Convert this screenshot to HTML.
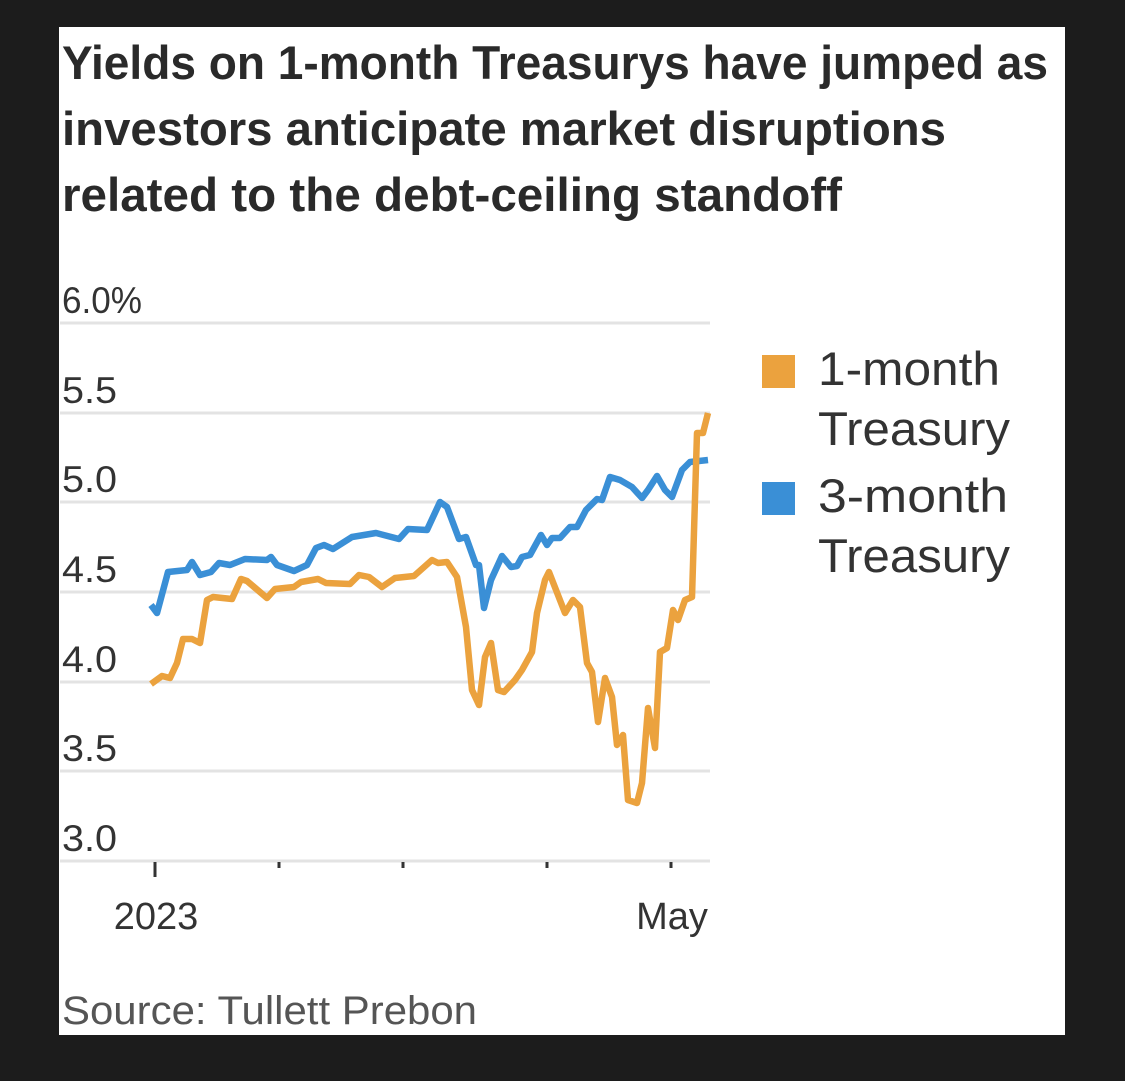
<!DOCTYPE html>
<html><head><style>
html,body{margin:0;padding:0;background:#1c1c1c;}
svg{display:block}
</style></head><body>
<svg width="1125" height="1081" viewBox="0 0 1125 1081" xmlns="http://www.w3.org/2000/svg" font-family="Liberation Sans, sans-serif">
<rect x="0" y="0" width="1125" height="1081" fill="#1c1c1c"/>
<rect x="59" y="27" width="1006" height="1008" fill="#fff"/>
<g fill="#2a2a2a" font-weight="bold" font-size="47">
<text x="62" y="79" textLength="986" lengthAdjust="spacingAndGlyphs">Yields on 1-month Treasurys have jumped as</text>
<text x="62" y="145" textLength="884" lengthAdjust="spacingAndGlyphs">investors anticipate market disruptions</text>
<text x="62" y="211" textLength="780" lengthAdjust="spacingAndGlyphs">related to the debt-ceiling standoff</text>
</g>
<g stroke="#e3e3e3" stroke-width="3">
<line x1="60" y1="323" x2="710" y2="323"/>
<line x1="60" y1="413" x2="710" y2="413"/>
<line x1="60" y1="502" x2="710" y2="502"/>
<line x1="60" y1="592" x2="710" y2="592"/>
<line x1="60" y1="682" x2="710" y2="682"/>
<line x1="60" y1="771" x2="710" y2="771"/>
<line x1="60" y1="861" x2="710" y2="861"/>
</g>
<g fill="#333" font-size="37">
<text x="62" y="313" textLength="80" lengthAdjust="spacingAndGlyphs">6.0%</text>
<text x="62" y="403" textLength="55" lengthAdjust="spacingAndGlyphs">5.5</text>
<text x="62" y="492" textLength="55" lengthAdjust="spacingAndGlyphs">5.0</text>
<text x="62" y="582" textLength="55" lengthAdjust="spacingAndGlyphs">4.5</text>
<text x="62" y="672" textLength="55" lengthAdjust="spacingAndGlyphs">4.0</text>
<text x="62" y="761" textLength="55" lengthAdjust="spacingAndGlyphs">3.5</text>
<text x="62" y="851" textLength="55" lengthAdjust="spacingAndGlyphs">3.0</text>
</g>
<g stroke="#333" stroke-width="3">
<line x1="155" y1="862" x2="155" y2="877"/>
<line x1="279" y1="862" x2="279" y2="868"/>
<line x1="403" y1="862" x2="403" y2="868"/>
<line x1="547" y1="862" x2="547" y2="868"/>
<line x1="671" y1="862" x2="671" y2="868"/>
</g>
<g fill="#333" font-size="38" text-anchor="middle">
<text x="156" y="929">2023</text>
<text x="672" y="929">May</text>
</g>
<polyline fill="none" stroke="#3a8fd6" stroke-width="6.5" stroke-linejoin="round" points="151,605 157,613 168,572 187,570 192,562 200,575 211,572 219,563 230,565 245,559 267,560 271,557 277,565 294,571 307,565 316,548 324,545 333,549 352,537 376,533 399,539 408,529 427,530 440,502 447,507 459,539 466,537 476,565 479,565 484,608 491,580 502,556 511,567 517,566 522,557 530,555 541,535 547,545 552,538 560,538 570,527 577,527 586,510 597,499 602,500 610,477 620,480 632,487 642,498 648,490 657,476 665,490 672,497 682,470 690,462 708,460"/>
<polyline fill="none" stroke="#eba23e" stroke-width="6.5" stroke-linejoin="round" points="151,684 162,676 170,678 177,663 183,639 192,639 200,643 207,600 213,597 232,599 241,579 247,581 267,598 275,589 294,587 301,582 318,579 326,583 350,584 359,575 369,577 382,587 395,578 414,576 432,560 438,563 447,562 457,577 466,627 472,690 479,705 485,657 491,643 498,690 504,692 515,680 522,670 532,652 537,613 545,580 549,572 565,613 573,600 580,607 587,663 592,672 598,722 605,678 612,697 617,745 623,735 628,800 637,803 642,783 648,708 655,748 660,652 667,648 673,610 678,620 685,600 692,597 697,433 703,433 708,413"/>
<rect x="762" y="355" width="33" height="33" fill="#eba23e"/>
<rect x="762" y="482" width="33" height="33" fill="#3a8fd6"/>
<g fill="#333" font-size="47">
<text x="818" y="385" textLength="182" lengthAdjust="spacingAndGlyphs">1-month</text>
<text x="818" y="445" textLength="192" lengthAdjust="spacingAndGlyphs">Treasury</text>
<text x="818" y="512" textLength="190" lengthAdjust="spacingAndGlyphs">3-month</text>
<text x="818" y="572" textLength="192" lengthAdjust="spacingAndGlyphs">Treasury</text>
</g>
<text x="62" y="1024" fill="#555" font-size="40" textLength="415" lengthAdjust="spacingAndGlyphs">Source: Tullett Prebon</text>
</svg>
</body></html>
